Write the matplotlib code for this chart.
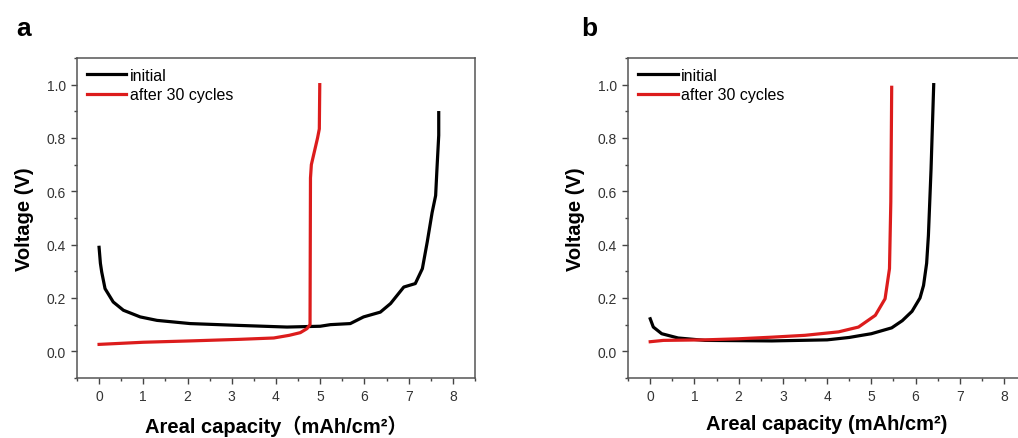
import matplotlib
matplotlib.use("Agg")
from matplotlib import pyplot as plt
from matplotlib.ticker import MultipleLocator

# panel a
a_init_x = [0.0, 0.03, 0.06, 0.135, 0.32, 0.55, 0.93, 1.31, 2.06, 3.19, 4.25, 5.0, 5.23,
            5.68, 5.98, 6.36, 6.59, 6.89, 7.15, 7.31, 7.42, 7.53, 7.61, 7.64, 7.68, 7.68]
a_init_y = [0.39, 0.33, 0.297, 0.235, 0.185, 0.154, 0.129, 0.116, 0.104, 0.097, 0.091,
            0.094, 0.100, 0.104, 0.129, 0.147, 0.179, 0.241, 0.254, 0.31, 0.41, 0.52,
            0.584, 0.684, 0.81, 0.895]
a_cyc_x = [0.0, 1.0, 2.06, 3.19, 3.95, 4.3, 4.55, 4.7, 4.77, 4.78, 4.80, 4.87, 4.94,
           4.98, 4.99]
a_cyc_y = [0.026, 0.034, 0.039, 0.045, 0.050, 0.06, 0.070, 0.085, 0.10, 0.65, 0.70,
           0.75, 0.80, 0.834, 1.0]

# panel b
b_init_x = [0.0, 0.07, 0.26, 0.63, 1.24, 2.75, 4.0, 4.5, 4.71, 5.0, 5.46, 5.7, 5.92,
            6.1, 6.18, 6.25, 6.29, 6.35, 6.41]
b_init_y = [0.122, 0.091, 0.066, 0.050, 0.041, 0.039, 0.043, 0.052, 0.058, 0.066, 0.088,
            0.115, 0.15, 0.20, 0.247, 0.33, 0.434, 0.684, 1.0]
b_cyc_x = [0.0, 0.3, 1.24, 2.0, 2.75, 3.5, 4.26, 4.71, 5.09, 5.31, 5.41, 5.44, 5.46]
b_cyc_y = [0.036, 0.041, 0.043, 0.047, 0.053, 0.060, 0.073, 0.091, 0.135, 0.197, 0.31,
           0.56, 0.99]

xticks = [0, 1, 2, 3, 4, 5, 6, 7, 8]
yticks = [0.0, 0.2, 0.4, 0.6, 0.8, 1.0]

plt.rcParams['font.family'] = ['Liberation Sans', 'Noto Sans CJK SC', 'DejaVu Sans']

RED = '#dc1c1c'
fig = plt.figure(figsize=(10.18, 4.39), dpi=100)

def panel(rect, ix, iy, cx, cy, xlabel, letter, lx):
    ax = fig.add_axes(rect)
    ax.plot(ix, iy, color='black', lw=2.3, label='initial')
    ax.plot(cx, cy, color=RED, lw=2.3, label='after 30 cycles')
    ax.set_xlim(-0.5, 8.5)
    ax.set_ylim(-0.1, 1.1)
    ax.set_xticks(xticks)
    ax.set_yticks(yticks)
    ax.xaxis.set_minor_locator(MultipleLocator(0.5))
    ax.yaxis.set_minor_locator(MultipleLocator(0.1))
    ax.tick_params(which='both', direction='out', colors='#444', labelcolor='#333',
                   labelsize=10, top=False, right=False)
    ax.tick_params(which='major', length=4.5, width=1)
    ax.tick_params(which='minor', length=2.5, width=1)
    for s in ax.spines.values():
        s.set_color('#555')
        s.set_linewidth(1.1)
    ax.set_ylabel('Voltage (V)', fontsize=14.5, fontweight='bold', labelpad=9)
    ax.set_xlabel(xlabel, fontsize=14.5, fontweight='bold', labelpad=8)
    ax.legend(loc='upper left', frameon=False, fontsize=11.5, handlelength=2.5,
              handletextpad=0.2, borderaxespad=0.3, labelspacing=0.3,
              borderpad=0.3)
    fig.text(lx, 0.935, letter, fontsize=19, fontweight='bold', va='center')
    return ax

panel([0.0756, 0.1367, 0.391, 0.729], a_init_x, a_init_y, a_cyc_x, a_cyc_y,
      'Areal capacity（mAh/cm²）', 'a', 0.016)
panel([0.617, 0.1367, 0.391, 0.729], b_init_x, b_init_y, b_cyc_x, b_cyc_y,
      'Areal capacity (mAh/cm²)', 'b', 0.571)

fig.savefig('out.png', dpi=100)
